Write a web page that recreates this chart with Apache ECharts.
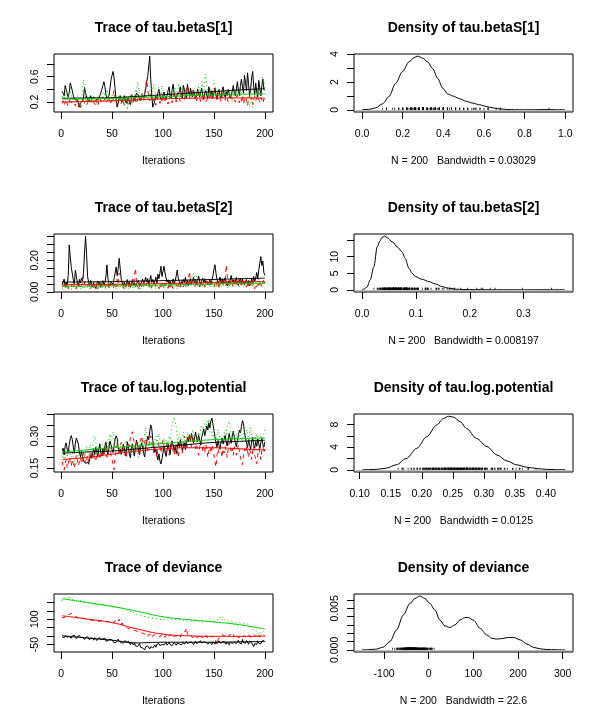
<!DOCTYPE html>
<html><head><meta charset="utf-8">
<script src="https://cdn.jsdelivr.net/npm/echarts@6/dist/echarts.min.js"></script>
<style>html,body{margin:0;padding:0;background:#fff}#c{width:600px;height:720px}</style>
</head><body><div id="c"></div>
<script>
// ---------- DATA ----------
const traceXTicks = [0, 50, 100, 150, 200];
const smoothIter = [1, 25, 50, 75, 100, 125, 150, 175, 200];

// tau.betaS[1] chains
const b1Black = [
0.37,0.34,0.30,0.46,0.40,0.33,0.28,0.35,0.50,0.44,
0.38,0.30,0.26,0.24,0.22,0.25,0.20,0.12,0.18,0.15,
0.22,0.26,0.43,0.35,0.28,0.24,0.20,0.26,0.30,0.24,
0.22,0.27,0.30,0.25,0.28,0.23,0.26,0.30,0.34,0.40,
0.46,0.52,0.44,0.32,0.26,0.24,0.30,0.42,0.55,0.62,
0.68,0.58,0.40,0.24,0.12,0.18,0.26,0.30,0.24,0.20,
0.26,0.30,0.22,0.18,0.24,0.28,0.20,0.16,0.24,0.30,
0.26,0.22,0.28,0.34,0.36,0.30,0.26,0.22,0.28,0.30,
0.26,0.32,0.40,0.52,0.60,0.62,0.92,0.55,0.30,0.12,
0.10,0.22,0.30,0.26,0.34,0.40,0.30,0.24,0.22,0.30,
0.36,0.28,0.24,0.30,0.38,0.44,0.30,0.26,0.40,0.48,
0.34,0.28,0.24,0.32,0.30,0.36,0.44,0.30,0.26,0.46,
0.40,0.30,0.26,0.48,0.36,0.30,0.42,0.34,0.28,0.38,
0.32,0.26,0.30,0.40,0.34,0.28,0.36,0.42,0.30,0.24,
0.34,0.38,0.30,0.26,0.44,0.36,0.30,0.38,0.28,0.34,
0.42,0.32,0.24,0.36,0.40,0.30,0.26,0.38,0.44,0.32,
0.28,0.36,0.30,0.40,0.34,0.26,0.30,0.38,0.46,0.34,
0.30,0.40,0.52,0.38,0.30,0.46,0.56,0.44,0.34,0.62,
0.50,0.38,0.66,0.48,0.30,0.40,0.58,0.68,0.44,0.32,
0.50,0.36,0.28,0.54,0.42,0.30,0.46,0.56,0.40,0.38];
const b1Red = [
0.18,0.22,0.15,0.20,0.24,0.17,0.13,0.20,0.26,0.19,
0.16,0.22,0.18,0.14,0.20,0.24,0.12,0.18,0.11,0.16,
0.20,0.26,0.18,0.22,0.15,0.19,0.24,0.20,0.17,0.22,
0.26,0.20,0.16,0.23,0.19,0.14,0.21,0.27,0.22,0.18,
0.15,0.22,0.26,0.20,0.17,0.23,0.28,0.21,0.16,0.24,
0.30,0.38,0.26,0.20,0.16,0.23,0.28,0.22,0.18,0.25,
0.20,0.16,0.24,0.29,0.22,0.14,0.19,0.26,0.32,0.24,
0.20,0.28,0.22,0.17,0.25,0.30,0.24,0.19,0.34,0.26,
0.22,0.30,0.46,0.55,0.40,0.28,0.22,0.30,0.24,0.19,
0.26,0.20,0.15,0.22,0.28,0.24,0.18,0.26,0.22,0.30,
0.24,0.19,0.27,0.22,0.17,0.25,0.30,0.23,0.19,0.26,
0.32,0.25,0.20,0.28,0.34,0.26,0.21,0.30,0.38,0.28,
0.24,0.33,0.42,0.46,0.36,0.28,0.24,0.34,0.40,0.30,
0.25,0.30,0.22,0.28,0.35,0.26,0.21,0.29,0.24,0.31,
0.26,0.20,0.17,0.27,0.32,0.24,0.30,0.22,0.28,0.35,
0.40,0.30,0.24,0.29,0.34,0.25,0.21,0.30,0.38,0.27,
0.23,0.30,0.26,0.20,0.28,0.33,0.25,0.22,0.29,0.24,
0.20,0.27,0.31,0.24,0.19,0.26,0.22,0.30,0.17,0.24,
0.28,0.23,0.14,0.26,0.30,0.22,0.28,0.16,0.24,0.29,
0.22,0.26,0.30,0.24,0.20,0.27,0.23,0.18,0.25,0.21];
const b1Green = [
0.28,0.34,0.26,0.30,0.38,0.32,0.25,0.36,0.42,0.30,
0.24,0.28,0.20,0.26,0.22,0.30,0.24,0.18,0.12,0.20,
0.40,0.55,0.38,0.28,0.22,0.30,0.26,0.20,0.24,0.18,
0.26,0.30,0.22,0.16,0.24,0.28,0.32,0.26,0.20,0.24,
0.30,0.36,0.28,0.22,0.40,0.34,0.24,0.20,0.28,0.32,
0.26,0.20,0.30,0.24,0.18,0.26,0.32,0.22,0.18,0.26,
0.20,0.14,0.22,0.28,0.08,0.18,0.26,0.30,0.22,0.16,
0.24,0.30,0.40,0.34,0.52,0.44,0.30,0.22,0.28,0.36,
0.26,0.22,0.32,0.28,0.24,0.30,0.38,0.30,0.44,0.36,
0.48,0.40,0.30,0.26,0.34,0.44,0.36,0.28,0.46,0.38,
0.30,0.26,0.34,0.28,0.36,0.30,0.24,0.32,0.38,0.30,
0.34,0.42,0.36,0.30,0.50,0.40,0.28,0.34,0.46,0.36,
0.30,0.26,0.34,0.40,0.32,0.28,0.36,0.30,0.26,0.34,
0.40,0.32,0.28,0.36,0.44,0.34,0.30,0.52,0.40,0.36,
0.58,0.64,0.46,0.36,0.30,0.42,0.34,0.28,0.40,0.55,
0.46,0.36,0.30,0.40,0.34,0.28,0.36,0.30,0.26,0.34,
0.30,0.40,0.34,0.28,0.36,0.30,0.26,0.20,0.32,0.38,
0.30,0.26,0.34,0.40,0.32,0.28,0.36,0.30,0.24,0.32,
0.26,0.20,0.30,0.24,0.14,0.20,0.28,0.12,0.22,0.30,
0.36,0.28,0.34,0.42,0.30,0.38,0.50,0.60,0.52,0.40];
const b1SmoothBlack = [0.26,0.265,0.27,0.29,0.315,0.34,0.365,0.39,0.41];
const b1SmoothRed   = [0.20,0.21,0.22,0.235,0.25,0.26,0.265,0.265,0.26];
const b1SmoothGreen = [0.245,0.25,0.26,0.27,0.285,0.30,0.315,0.325,0.33];

// tau.betaS[2] chains
const b2Black = [
0.042,0.053,0.081,0.034,0.062,0.041,0.103,0.298,0.221,0.152,
0.118,0.077,0.048,0.137,0.096,0.058,0.036,0.079,0.057,0.088,
0.069,0.121,0.247,0.352,0.238,0.097,0.061,0.039,0.072,0.047,
0.031,0.059,0.038,0.022,0.051,0.068,0.043,0.063,0.028,0.054,
0.071,0.044,0.058,0.098,0.171,0.083,0.052,0.037,0.061,0.073,
0.049,0.084,0.117,0.158,0.103,0.142,0.213,0.149,0.082,0.057,
0.039,0.062,0.033,0.048,0.078,0.042,0.064,0.029,0.053,0.069,
0.043,0.058,0.034,0.052,0.041,0.074,0.032,0.049,0.063,0.081,
0.054,0.067,0.092,0.061,0.084,0.047,0.072,0.104,0.059,0.079,
0.052,0.068,0.093,0.057,0.112,0.083,0.118,0.162,0.097,0.128,
0.163,0.121,0.088,0.062,0.077,0.051,0.069,0.044,0.058,0.082,
0.048,0.071,0.102,0.139,0.087,0.063,0.042,0.066,0.053,0.078,
0.059,0.093,0.047,0.073,0.038,0.061,0.084,0.052,0.068,0.091,
0.057,0.079,0.046,0.074,0.099,0.064,0.041,0.071,0.087,0.058,
0.083,0.054,0.067,0.043,0.059,0.081,0.048,0.072,0.101,0.143,
0.172,0.118,0.079,0.053,0.068,0.094,0.056,0.082,0.047,0.073,
0.089,0.062,0.038,0.071,0.052,0.078,0.104,0.063,0.076,0.049,
0.067,0.092,0.058,0.041,0.069,0.087,0.053,0.081,0.057,0.044,
0.063,0.078,0.046,0.072,0.039,0.058,0.083,0.051,0.098,0.066,
0.087,0.123,0.082,0.138,0.183,0.224,0.167,0.196,0.122,0.104];
const b2Red = [
0.03,0.02,0.04,0.06,0.03,0.05,0.02,0.04,0.03,0.05,
0.02,0.04,0.03,0.06,0.02,0.04,0.03,0.05,0.02,0.04,
0.06,0.10,0.05,0.03,0.02,0.04,0.03,0.05,0.02,0.04,
0.03,0.02,0.05,0.03,0.04,0.02,0.06,0.03,0.02,0.04,
0.03,0.05,0.02,0.04,0.03,0.06,0.02,0.04,0.03,0.05,
0.02,0.04,0.06,0.03,0.08,0.05,0.12,0.13,0.10,0.04,
0.03,0.02,0.05,0.03,0.04,0.02,0.06,0.03,0.05,0.08,
0.05,0.10,0.15,0.06,0.03,0.04,0.02,0.05,0.03,0.04,
0.06,0.03,0.02,0.05,0.04,0.07,0.03,0.05,0.02,0.04,
0.06,0.03,0.05,0.08,0.04,0.02,0.05,0.03,0.06,0.04,
0.02,0.05,0.03,0.04,0.02,0.06,0.03,0.05,0.04,0.02,
0.04,0.03,0.05,0.02,0.04,0.06,0.03,0.05,0.04,0.03,
0.05,0.03,0.06,0.04,0.08,0.13,0.06,0.04,0.07,0.05,
0.03,0.05,0.07,0.04,0.06,0.03,0.05,0.08,0.04,0.06,
0.03,0.05,0.07,0.04,0.06,0.03,0.05,0.04,0.06,0.03,
0.05,0.07,0.04,0.06,0.02,0.05,0.08,0.04,0.06,0.09,
0.05,0.17,0.10,0.06,0.04,0.07,0.05,0.03,0.06,0.08,
0.05,0.07,0.04,0.06,0.09,0.05,0.03,0.06,0.04,0.07,
0.05,0.03,0.06,0.04,0.07,0.05,0.03,0.06,0.04,0.02,
0.05,0.03,0.06,0.04,0.07,0.05,0.03,0.06,0.08,0.05];
const b2Green = [
0.02,0.03,0.014,0.02,0.04,0.02,0.015,0.03,0.02,0.014,
0.03,0.02,0.04,0.02,0.015,0.03,0.02,0.04,0.02,0.03,
0.02,0.04,0.03,0.02,0.015,0.03,0.05,0.02,0.03,0.02,
0.04,0.02,0.03,0.015,0.02,0.04,0.05,0.03,0.06,0.04,
0.02,0.03,0.05,0.02,0.04,0.03,0.02,0.04,0.06,0.03,
0.02,0.04,0.03,0.02,0.05,0.03,0.02,0.04,0.03,0.02,
0.03,0.05,0.02,0.04,0.03,0.02,0.04,0.03,0.05,0.02,
0.04,0.03,0.02,0.05,0.03,0.015,0.04,0.02,0.03,0.05,
0.03,0.02,0.04,0.03,0.05,0.02,0.04,0.03,0.02,0.04,
0.03,0.05,0.02,0.04,0.03,0.02,0.04,0.06,0.03,0.05,
0.04,0.02,0.05,0.03,0.04,0.02,0.05,0.03,0.04,0.06,
0.03,0.05,0.04,0.02,0.05,0.03,0.06,0.04,0.03,0.05,
0.04,0.06,0.03,0.05,0.04,0.07,0.05,0.08,0.10,0.12,
0.09,0.06,0.11,0.05,0.04,0.06,0.03,0.05,0.07,0.04,
0.05,0.03,0.06,0.04,0.07,0.05,0.03,0.06,0.04,0.08,
0.05,0.03,0.06,0.04,0.02,0.05,0.03,0.06,0.04,0.05,
0.03,0.06,0.04,0.02,0.05,0.03,0.06,0.04,0.07,0.05,
0.03,0.06,0.04,0.05,0.03,0.07,0.04,0.06,0.03,0.05,
0.04,0.06,0.03,0.05,0.07,0.04,0.06,0.03,0.05,0.04,
0.06,0.03,0.05,0.08,0.04,0.06,0.03,0.07,0.05,0.04];
const b2SmoothBlack = [0.062,0.063,0.065,0.068,0.071,0.075,0.079,0.083,0.087];
const b2SmoothRed   = [0.045,0.046,0.048,0.05,0.053,0.056,0.06,0.063,0.066];
const b2SmoothGreen = [0.035,0.036,0.038,0.04,0.043,0.046,0.05,0.053,0.055];

// tau.log.potential chains
const lpBlack = [
0.231,0.243,0.212,0.254,0.268,0.237,0.224,0.259,0.287,0.302,
0.283,0.248,0.219,0.266,0.291,0.297,0.262,0.226,0.203,0.228,
0.204,0.183,0.192,0.171,0.162,0.178,0.168,0.187,0.209,0.196,
0.218,0.241,0.213,0.247,0.226,0.201,0.238,0.263,0.221,0.207,
0.242,0.216,0.253,0.272,0.234,0.211,0.249,0.276,0.258,0.236,
0.223,0.257,0.284,0.301,0.289,0.246,0.222,0.239,0.214,0.232,
0.261,0.244,0.208,0.229,0.273,0.251,0.217,0.198,0.243,0.264,
0.227,0.206,0.252,0.281,0.259,0.233,0.211,0.245,0.268,0.248,
0.219,0.202,0.244,0.274,0.298,0.283,0.322,0.352,0.334,0.279,
0.247,0.224,0.239,0.208,0.188,0.217,0.183,0.169,0.193,0.221,
0.253,0.227,0.204,0.234,0.262,0.238,0.213,0.254,0.277,0.256,
0.232,0.251,0.218,0.243,0.271,0.247,0.283,0.258,0.229,0.252,
0.268,0.236,0.264,0.293,0.272,0.304,0.277,0.312,0.286,0.266,
0.297,0.318,0.289,0.273,0.303,0.282,0.257,0.294,0.314,0.333,
0.301,0.324,0.347,0.328,0.362,0.338,0.371,0.384,0.357,0.326,
0.296,0.268,0.247,0.279,0.256,0.238,0.273,0.291,0.263,0.284,
0.303,0.274,0.253,0.281,0.312,0.287,0.266,0.298,0.323,0.292,
0.271,0.249,0.278,0.306,0.327,0.314,0.346,0.372,0.358,0.317,
0.288,0.267,0.246,0.283,0.259,0.237,0.272,0.294,0.258,0.243,
0.274,0.252,0.286,0.263,0.241,0.269,0.292,0.261,0.248,0.273];
const lpRed = [
0.18,0.16,0.14,0.17,0.19,0.15,0.17,0.20,0.18,0.16,
0.19,0.17,0.15,0.18,0.21,0.19,0.16,0.18,0.20,0.17,
0.19,0.22,0.20,0.17,0.19,0.21,0.18,0.20,0.23,0.21,
0.19,0.22,0.20,0.18,0.21,0.24,0.22,0.19,0.21,0.23,
0.20,0.22,0.25,0.23,0.20,0.22,0.26,0.24,0.21,0.19,
0.17,0.142,0.20,0.23,0.26,0.24,0.21,0.25,0.27,0.24,
0.22,0.25,0.23,0.20,0.24,0.27,0.25,0.29,0.31,0.32,
0.29,0.26,0.24,0.27,0.25,0.22,0.26,0.28,0.30,0.27,
0.24,0.27,0.29,0.26,0.23,0.25,0.28,0.30,0.27,0.24,
0.22,0.25,0.23,0.20,0.24,0.27,0.25,0.22,0.26,0.28,
0.25,0.22,0.24,0.27,0.23,0.21,0.25,0.28,0.26,0.23,
0.21,0.24,0.26,0.23,0.20,0.24,0.27,0.25,0.22,0.28,
0.30,0.27,0.24,0.26,0.29,0.31,0.28,0.25,0.27,0.30,
0.27,0.24,0.26,0.23,0.21,0.25,0.28,0.26,0.23,0.25,
0.22,0.26,0.24,0.20,0.23,0.25,0.22,0.26,0.24,0.21,
0.18,0.155,0.21,0.24,0.22,0.25,0.23,0.20,0.24,0.22,
0.25,0.23,0.20,0.24,0.27,0.25,0.22,0.24,0.21,0.25,
0.23,0.21,0.24,0.26,0.23,0.20,0.18,0.165,0.21,0.24,
0.22,0.25,0.23,0.20,0.24,0.22,0.19,0.23,0.25,0.21,
0.19,0.17,0.21,0.24,0.22,0.19,0.23,0.25,0.22,0.24];
const lpGreen = [
0.20,0.22,0.19,0.21,0.23,0.20,0.22,0.24,0.21,0.19,
0.22,0.20,0.18,0.16,0.155,0.18,0.21,0.24,0.22,0.19,
0.21,0.23,0.20,0.22,0.25,0.23,0.21,0.24,0.26,0.23,
0.25,0.28,0.30,0.27,0.24,0.22,0.25,0.23,0.21,0.24,
0.26,0.23,0.25,0.28,0.26,0.24,0.29,0.31,0.28,0.30,
0.32,0.29,0.26,0.24,0.27,0.25,0.23,0.26,0.24,0.22,
0.25,0.23,0.26,0.28,0.25,0.23,0.21,0.24,0.26,0.23,
0.21,0.24,0.22,0.25,0.23,0.20,0.24,0.27,0.29,0.26,
0.28,0.31,0.34,0.30,0.27,0.25,0.28,0.26,0.24,0.27,
0.25,0.28,0.30,0.27,0.29,0.31,0.28,0.26,0.24,0.27,
0.29,0.26,0.28,0.25,0.27,0.30,0.28,0.32,0.35,0.37,
0.39,0.393,0.34,0.30,0.28,0.31,0.29,0.27,0.30,0.32,
0.29,0.27,0.30,0.32,0.29,0.31,0.28,0.30,0.33,0.31,
0.28,0.30,0.27,0.29,0.32,0.30,0.33,0.35,0.31,0.34,
0.36,0.33,0.37,0.35,0.38,0.36,0.33,0.30,0.32,0.29,
0.31,0.28,0.30,0.33,0.31,0.28,0.30,0.27,0.29,0.31,
0.33,0.30,0.34,0.36,0.37,0.34,0.31,0.29,0.32,0.30,
0.28,0.31,0.29,0.27,0.30,0.32,0.29,0.27,0.31,0.33,
0.30,0.33,0.31,0.28,0.32,0.34,0.31,0.29,0.27,0.30,
0.28,0.31,0.29,0.26,0.28,0.30,0.27,0.29,0.31,0.33];
const lpSmoothBlack = [0.22,0.225,0.23,0.24,0.25,0.26,0.27,0.275,0.28];
const lpSmoothRed   = [0.19,0.20,0.215,0.23,0.24,0.245,0.245,0.24,0.235];
const lpSmoothGreen = [0.225,0.235,0.245,0.255,0.265,0.275,0.283,0.288,0.29];

// deviance chains
const dvBlack = [
-4,6,-10,2,12,-6,4,-2,8,-12,
0,-8,6,-4,-14,-2,-10,4,-8,-16,
-6,-12,-20,-8,-16,-4,-14,-22,-10,-18,
-12,-24,-8,-16,-26,-14,-20,-10,-22,-28,
-16,-24,-12,-30,-20,-26,-34,-18,-28,-22,
-30,-40,-44,-36,-26,-18,-32,-24,-38,-30,
-42,-34,-26,-38,-46,-30,-40,-50,-36,-44,
-52,-40,-58,-48,-62,-54,-44,-66,-56,-70,
-60,-81,-64,-72,-58,-68,-76,-62,-54,-70,
-60,-52,-66,-48,-58,-44,-56,-62,-50,-40,
-52,-46,-38,-54,-44,-36,-50,-42,-56,-46,
-38,-48,-54,-42,-34,-46,-40,-52,-44,-36,
-48,-40,-32,-44,-52,-38,-46,-34,-42,-50,
-40,-30,-44,-52,-36,-46,-28,-40,-48,-34,
-44,-38,-30,-46,-54,-36,-42,-50,-34,-40,
-48,-32,-44,-38,-28,-42,-50,-36,-46,-30,
-40,-48,-34,-44,-52,-36,-30,-42,-50,-38,
-28,-44,-36,-24,-40,-32,-46,-20,-38,-30,
-42,-26,-36,-48,-30,-22,-40,-34,-62,-44,
-36,-50,-28,-42,-34,-46,-30,-38,-26,-32];
const dvRed = [
112,118,108,122,115,125,118,130,124,135,
126,120,128,116,122,112,119,108,115,110,
116,106,112,102,109,98,105,95,102,94,
100,92,98,88,95,86,94,90,84,92,
88,82,90,85,80,88,78,84,76,82,
74,80,72,98,94,86,100,72,66,78,
60,70,55,62,48,58,44,52,40,46,
36,42,32,38,28,34,24,30,20,26,
16,22,8,14,-4,10,2,12,-6,4,
8,-2,6,12,0,10,-4,6,14,2,
8,-6,4,12,-2,6,10,-4,2,-8,
4,10,-2,6,0,8,-6,12,20,30,
38,26,48,14,2,-6,8,0,-10,4,
10,-4,6,-8,2,12,-2,4,-10,6,
0,8,-6,4,-12,2,10,-4,6,-2,
-14,-30,-50,-20,-8,2,-6,8,-2,4,
10,-4,6,-8,2,12,-2,4,8,-6,
2,10,-4,6,-10,4,8,-2,6,0,
10,-4,4,12,-2,6,-8,2,10,4,
-2,8,14,4,-6,10,2,12,6,0];
const dvGreen = [
210,222,218,230,225,237,228,220,232,224,
218,226,215,221,212,219,208,214,210,216,
205,211,203,208,200,206,198,204,196,201,
194,200,190,197,188,195,186,192,184,190,
187,180,186,178,184,176,182,175,180,173,
178,170,176,168,174,165,171,162,168,160,
165,158,163,155,150,146,152,144,140,136,
140,133,128,135,126,130,122,127,120,124,
118,122,115,119,112,117,110,114,108,113,
106,111,104,109,102,107,100,105,98,103,
101,97,104,99,95,102,98,94,100,96,
99,94,98,92,97,93,100,95,91,96,
92,97,90,95,89,93,88,94,90,86,
91,87,93,88,85,90,86,92,84,89,
86,91,88,84,89,83,87,82,86,81,
88,95,100,106,98,112,104,96,108,100,
92,86,90,82,87,80,84,78,83,77,
81,76,80,74,79,72,77,71,75,70,
74,68,72,66,70,60,52,44,36,30,
38,24,32,12,26,2,20,14,30,22];
const dvSmoothBlack = [3,-11,-24,-40,-36,-36,-36,-34,-32];
const dvSmoothRed   = [121,102,80,42,12,2,-1,-1,0];
const dvSmoothGreen = [222,200,176,147,115,98,84,68,42];

// density curves
const d1X = [0,0.02,0.04,0.066,0.1,0.132,0.165,0.198,0.231,0.256,0.273,0.298,0.322,0.347,0.372,0.397,0.421,0.446,0.479,0.512,0.545,0.579,0.612,0.645,0.678,0.711,0.75,0.8,0.85,0.9,0.95,0.998];
const d1Y = [0.01,0.02,0.05,0.14,0.43,0.95,1.9,2.74,3.45,3.76,3.86,3.72,3.45,2.98,2.26,1.55,1.14,1.0,0.81,0.62,0.48,0.36,0.24,0.14,0.07,0.03,0.01,0.005,0.01,0.02,0.01,0.002];
const d2X = [0,0.003,0.009,0.015,0.022,0.028,0.033,0.037,0.042,0.046,0.056,0.065,0.074,0.08,0.087,0.093,0.099,0.111,0.124,0.136,0.148,0.161,0.173,0.189,0.21,0.25,0.3,0.35,0.3766];
const d2Y = [0.1,0.2,0.8,3.0,7.0,13.0,14.7,15.8,16.2,15.8,14.5,13.0,11.5,9.5,6.5,5.0,4.0,3.2,2.5,1.8,1.0,0.5,0.2,0.1,0.05,0.02,0.01,0.03,0.01];
const d3X = [0.104,0.115,0.1285,0.143,0.159,0.175,0.192,0.208,0.224,0.235,0.243,0.251,0.262,0.272,0.288,0.305,0.321,0.337,0.353,0.369,0.385,0.401,0.415,0.431];
const d3Y = [0.01,0.03,0.1,0.3,0.9,2.0,3.8,5.85,7.9,9.06,9.45,9.3,8.5,7.3,5.56,4.1,2.63,1.58,0.88,0.47,0.23,0.08,0.03,0.01];
const d4X = [-149,-135,-118.7,-102,-87,-72,-57,-42,-31,-20,-8.6,2.6,13.8,25,36,47.6,58.8,70,81,88.7,100,115,130,141,152,163.7,178.6,190,205,220,235,250,264.8,285,305];
const d4Y = [0.00001,0.00003,0.00008,0.00032,0.001,0.0024,0.0042,0.0056,0.0062,0.0065,0.0062,0.0056,0.0048,0.0036,0.0029,0.0027,0.003,0.0036,0.0039,0.0039,0.0036,0.0026,0.0018,0.0014,0.0013,0.00136,0.0015,0.0015,0.0012,0.0007,0.0003,0.00012,0.00004,0.00001,0];

// tick values / labels
const t1YTicks = [0.2,0.4,0.6,0.8],            t1YLabels = [0.2,0.6];
const t2YTicks = [0,0.05,0.1,0.15,0.2,0.25,0.3,0.35], t2YLabels = [0,0.2];
const t3YTicks = [0.15,0.2,0.25,0.3,0.35,0.4],  t3YLabels = [0.15,0.3];
const t4YTicks = [-50,0,50,100,150,200],         t4YLabels = [-50,100];
const d1XTicks = [0,0.2,0.4,0.6,0.8,1.0];
const d2XTicks = [0,0.1,0.2,0.3];
const d3XTicks = [0.1,0.15,0.2,0.25,0.3,0.35,0.4];
const d4XTicks = [-100,0,100,200,300];
const d1YTicks = [0,1,2,3,4],  d1YLabels = [0,2,4];
const d2YTicks = [0,5,10,15],  d2YLabels = [0,5,10];
const d3YTicks = [0,2,4,6,8],  d3YLabels = [0,4,8];
const d4YTicks = [0,0.001,0.002,0.003,0.004,0.005,0.006], d4YLabels = [0,0.005];

const titles = ['Trace of tau.betaS[1]','Density of tau.betaS[1]','Trace of tau.betaS[2]','Density of tau.betaS[2]',
                'Trace of tau.log.potential','Density of tau.log.potential','Trace of deviance','Density of deviance'];
const xNames = ['Iterations','N = 200   Bandwidth = 0.03029','Iterations','N = 200   Bandwidth = 0.008197',
                'Iterations','N = 200   Bandwidth = 0.0125','Iterations','N = 200   Bandwidth = 22.6'];

// ---------- BUILD ----------
const FONT = '"Liberation Sans", Arial, Helvetica, sans-serif';
const COLORS = ['#000000', '#FF0000', '#00CD00'];
const DASH = ['solid', [4, 4], [1, 3]];
const grids = [], xAxes = [], yAxes = [], series = [], title = [];

function fmt(dec) { return v => Number(v).toFixed(dec); }

for (let g = 0; g < 8; g++) {
  const r = Math.floor(g / 2), c = g % 2;
  const left = 54 + 300 * c, top = 54 + 180 * r;
  grids.push({ left, top, width: 219, height: 58, show: true, borderColor: '#000', borderWidth: 1, backgroundColor: 'transparent', containLabel: false });
  title.push({ text: titles[g], left: left + 109.5, top: top - 33, textAlign: 'center', padding: 0,
    textStyle: { fontFamily: FONT, fontSize: 14, fontWeight: 'bold', color: '#000' } });
}

function addXAxis(gi, min, max, ticks, labels, dec) {
  xAxes.push({ gridIndex: gi, type: 'value', min, max, scale: true, position: 'bottom',
    axisLine: { show: false, onZero: false }, splitLine: { show: false },
    axisTick: { show: true, length: 7, inside: false, customValues: ticks, lineStyle: { color: '#000', width: 1 } },
    axisLabel: { show: true, customValues: labels, formatter: fmt(dec), color: '#000', fontSize: 10.5, fontFamily: FONT, margin: 16.5, hideOverlap: false },
    name: xNames[gi], nameLocation: 'middle', nameGap: 44,
    nameTextStyle: { color: '#000', fontSize: 10.5, fontFamily: FONT } });
}
function addYAxis(gi, min, max, ticks, labels, dec) {
  yAxes.push({ gridIndex: gi, type: 'value', min, max, scale: true, position: 'left',
    axisLine: { show: false, onZero: false }, splitLine: { show: false },
    axisTick: { show: true, length: 7, inside: false, customValues: ticks, lineStyle: { color: '#000', width: 1 } },
    axisLabel: { show: true, customValues: labels, formatter: fmt(dec), rotate: 90, color: '#000', fontSize: 10.5, fontFamily: FONT, margin: 13.5, hideOverlap: false } });
}

function tracePanel(gi, chains, smooths, yMin, yMax, yTicks, yLabels, yDec) {
  addXAxis(gi, -6.96, 207.96, traceXTicks, traceXTicks, 0);
  addYAxis(gi, yMin, yMax, yTicks, yLabels, yDec);
  chains.forEach((arr, k) => series.push({ type: 'line', xAxisIndex: gi, yAxisIndex: gi,
    data: arr.map((v, i) => [i + 1, v]), symbol: 'none', showSymbol: false, silent: true, animation: false,
    clip: true, emphasis: { disabled: true }, lineStyle: { color: COLORS[k], width: 1, type: DASH[k] } }));
  smooths.forEach((arr, k) => series.push({ type: 'line', xAxisIndex: gi, yAxisIndex: gi,
    data: arr.map((v, i) => [smoothIter[i], v]), smooth: 0.5, symbol: 'none', showSymbol: false, silent: true,
    animation: false, clip: true, emphasis: { disabled: true }, lineStyle: { color: COLORS[k], width: 1, type: 'solid' } }));
}

function densityPanel(gi, dx, dy, rug, xMin, xMax, xTicks, xDec, yMin, yMax, yTicks, yLabels, yDec) {
  addXAxis(gi, xMin, xMax, xTicks, xTicks, xDec);
  addYAxis(gi, yMin, yMax, yTicks, yLabels, yDec);
  series.push({ type: 'line', xAxisIndex: gi, yAxisIndex: gi, data: dx.map((x, i) => [x, dy[i]]),
    smooth: 0.3, smoothMonotone: 'x', symbol: 'none', showSymbol: false, silent: true, animation: false, clip: true,
    emphasis: { disabled: true }, lineStyle: { color: '#000', width: 1 },
    markLine: { silent: true, symbol: 'none', animation: false, label: { show: false },
      lineStyle: { color: '#BEBEBE', width: 1, type: 'solid' }, emphasis: { disabled: true }, data: [{ yAxis: 0 }] } });
  series.push({ type: 'scatter', xAxisIndex: gi, yAxisIndex: gi, data: rug.map(v => [v, 0]),
    symbol: 'rect', symbolSize: [1, 2], symbolOffset: [0, -1], silent: true, animation: false,
    itemStyle: { color: '#000' }, emphasis: { disabled: true }, z: 5 });
}

tracePanel(0, [b1Black, b1Red, b1Green], [b1SmoothBlack, b1SmoothRed, b1SmoothGreen], 0.044, 0.955, t1YTicks, t1YLabels, 1);
densityPanel(1, d1X, d1Y, b1Black, -0.0399, 1.0379, d1XTicks, 1, -0.154, 4.014, d1YTicks, d1YLabels, 0);
tracePanel(2, [b2Black, b2Red, b2Green], [b2SmoothBlack, b2SmoothRed, b2SmoothGreen], -0.001, 0.367, t2YTicks, t2YLabels, 2);
densityPanel(3, d2X, d2Y, b2Black, -0.01506, 0.3917, d2XTicks, 1, -0.648, 16.85, d2YTicks, d2YLabels, 0);
tracePanel(4, [lpBlack, lpRed, lpGreen], [lpSmoothBlack, lpSmoothRed, lpSmoothGreen], 0.1314, 0.4032, t3YTicks, t3YLabels, 2);
densityPanel(5, d3X, d3Y, lpBlack, 0.0908, 0.4436, d3XTicks, 2, -0.379, 9.85, d3YTicks, d3YLabels, 0);
tracePanel(6, [dvBlack, dvRed, dvGreen], [dvSmoothBlack, dvSmoothRed, dvSmoothGreen], -94.1, 250.0, t4YTicks, t4YLabels, 0);
densityPanel(7, d4X, d4Y, dvBlack, -167.4, 323.2, d4XTicks, 0, -0.000259, 0.00674, d4YTicks, d4YLabels, 3);

const chart = echarts.init(document.getElementById('c'), null, { renderer: 'canvas', width: 600, height: 720 });
chart.setOption({ backgroundColor: '#ffffff', animation: false, title, grid: grids, xAxis: xAxes, yAxis: yAxes, series, tooltip: { show: false } });
</script>
</body></html>
